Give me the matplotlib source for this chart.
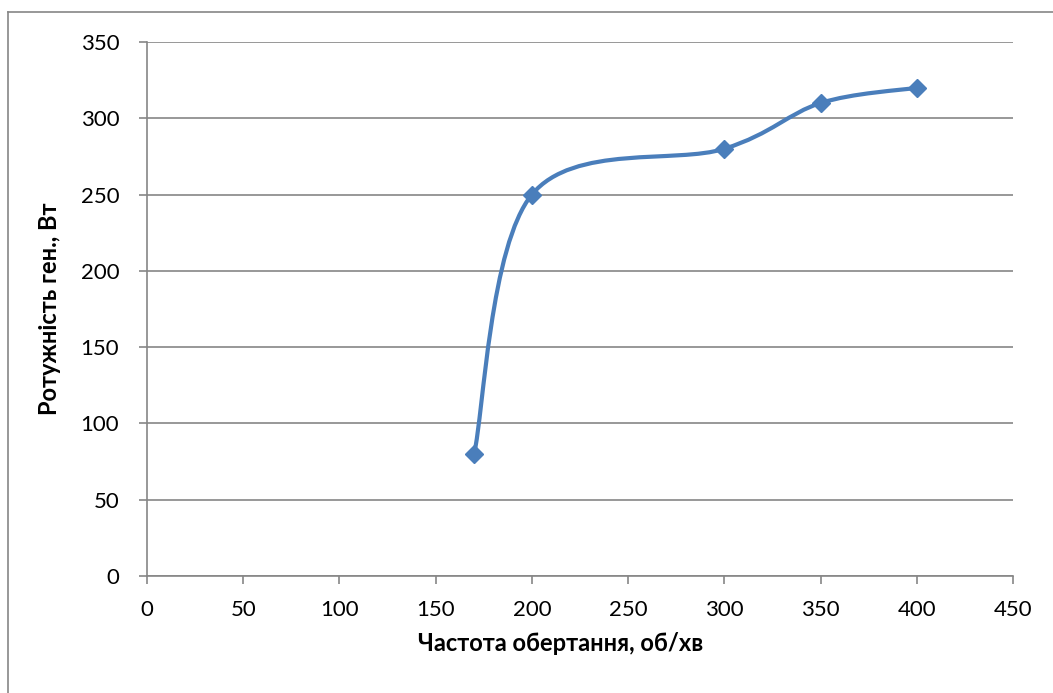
import matplotlib.pyplot as plt
from matplotlib.path import Path
from matplotlib.patches import PathPatch
from matplotlib.lines import Line2D
import numpy as np

plt.rcParams['font.family'] = ['Lato', 'DejaVu Sans']

speed = [170, 200, 300, 350, 400]
power = [80, 250, 280, 310, 320]
x_ticks = [0, 50, 100, 150, 200, 250, 300, 350, 400, 450]
y_ticks = [0, 50, 100, 150, 200, 250, 300, 350]

blue = '#4A7EBB'
grey = '#868686'

fig = plt.figure(figsize=(10.53, 6.93), dpi=100)
ax = fig.add_axes([0.1396, 0.1688, 0.8224, 0.7706])

# Excel style smoothed line: cubic bezier through the points
pts = np.column_stack([speed, power]).astype(float)
n = len(pts)
verts = [pts[0]]
codes = [Path.MOVETO]
for i in range(n - 1):
    p_prev = pts[i - 1] if i > 0 else pts[i]
    p_next = pts[i + 2] if i + 2 < n else pts[i + 1]
    c1 = pts[i] + (pts[i + 1] - p_prev) / 6
    c2 = pts[i + 1] - (p_next - pts[i]) / 6
    verts += [c1, c2, pts[i + 1]]
    codes += [Path.CURVE4] * 3
ax.add_patch(PathPatch(Path(verts, codes), fill=False, edgecolor=blue,
                       lw=3, zorder=3, capstyle='round', joinstyle='round'))
ax.plot(speed, power, linestyle='none', marker='D', ms=9, color=blue, zorder=4)

ax.set_xlim(0, 450)
ax.set_ylim(0, 350)
ax.set_xticks(x_ticks)
ax.set_yticks(y_ticks)
ax.yaxis.grid(True, color=grey, lw=1.2)
ax.set_axisbelow(True)
for s in ['top', 'right']:
    ax.spines[s].set_visible(False)
for s in ['left', 'bottom']:
    ax.spines[s].set_color(grey)
    ax.spines[s].set_linewidth(1.2)
ax.tick_params(axis='both', direction='out', length=6, width=1.2, color=grey,
               labelsize=16)
ax.tick_params(axis='x', pad=11)
ax.tick_params(axis='y', pad=14)

ax.set_xlabel('Частота обертання, об/хв', fontsize=17, fontweight='bold', labelpad=12)
ax.xaxis.set_label_coords(0.478, -0.105)
ax.set_ylabel('Ротужність ген., Вт', fontsize=17, fontweight='bold', labelpad=14)

# chart frame (only left and top edges visible)
fig.add_artist(Line2D([8 / 1053, 8 / 1053], [0, 1 - 12 / 693],
                      transform=fig.transFigure, color=grey, lw=1.2))
fig.add_artist(Line2D([8 / 1053, 1], [1 - 12 / 693, 1 - 12 / 693],
                      transform=fig.transFigure, color=grey, lw=1.2))

fig.savefig('out.png', dpi=100)
